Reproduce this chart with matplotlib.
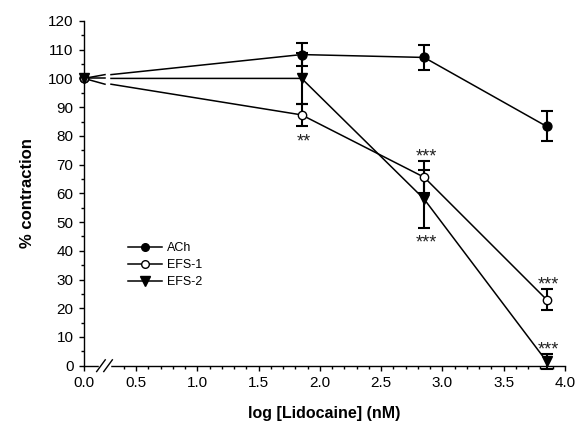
import numpy as np
import matplotlib
matplotlib.use("Agg")
import matplotlib.pyplot as plt
from matplotlib.lines import Line2D

plt.rcParams['font.family'] = ['Liberation Sans', 'DejaVu Sans']

# ---- data ----
log_lido = [0.0, 1.85, 2.85, 3.85]
ach_mean = [100, 108.3, 107.3, 83.3]
ach_err = [0, 4.0, 4.5, 5.2]
efs1_mean = [100, 87.3, 65.6, 23.0]
efs1_err = [0, 3.9, 5.5, 3.6]
efs2_mean = [100, 100, 58.0, 1.5]
efs2_err = [0, 9.0, 10.0, 2.5]
series_names = ["ACh", "EFS-1", "EFS-2"]
# significance labels: (series index, point index, side, text)
sig_labels = [
    (1, 1, "below", "**"),
    (1, 2, "above", "***"),
    (2, 2, "below", "***"),
    (1, 3, "above", "***"),
    (2, 3, "above", "***"),
]
xtick_vals = [0.0, 0.5, 1.0, 1.5, 2.0, 2.5, 3.0, 3.5, 4.0]
xtick_labels = ["0.0", "0.5", "1.0", "1.5", "2.0", "2.5", "3.0", "3.5", "4.0"]
ytick_vals = list(range(0, 121, 10))

# ---- layout / style ----
X_START = 0.0735          # axis start (control drawn here, broken axis)
GAP_L, GAP_R = 0.245, 0.294
BRK1, BRK2 = 0.212, 0.270

fig = plt.figure(figsize=(5.78, 4.32), dpi=100)
ax = fig.add_axes([0.1453, 0.1535, 0.8322, 0.798])
ax.set_xlim(X_START, 4.0)
ax.set_ylim(0, 120)

means = [ach_mean, efs1_mean, efs2_mean]
errs = [ach_err, efs1_err, efs2_err]
markers = ["o", "o", "v"]
mfcs = ["black", "white", "black"]
msizes = [6.4, 6.0, 7.2]

def disp_x(x):
    return [max(v, X_START) for v in x]

lw = 1.1
for m in means:
    y_gap = float(np.interp(GAP_R, log_lido[:2], m[:2]))
    ax.plot([X_START, GAP_L], [m[0], y_gap], color="black", lw=lw, zorder=2, clip_on=False)
    ax.plot([GAP_R] + log_lido[1:], [y_gap] + m[1:], color="black", lw=lw, zorder=2, clip_on=False)

for m, e, mk, fc, ms in zip(means, errs, markers, mfcs, msizes):
    xs = disp_x(log_lido)
    ax.errorbar(xs[1:], m[1:], yerr=e[1:], fmt="none", ecolor="black",
                elinewidth=1.5, capsize=4.0, capthick=1.5, zorder=3, clip_on=False)
    ax.plot(xs, m, linestyle="none", marker=mk, markersize=ms, markerfacecolor=fc,
            markeredgecolor="black", markeredgewidth=1.0, zorder=4, clip_on=False)

for si, pi, side, txt in sig_labels:
    yv = means[si][pi] + (errs[si][pi] if side == "above" else -errs[si][pi])
    off = 0 if side == "above" else -20
    ax.annotate(txt, (log_lido[pi], yv), xytext=(2, off), textcoords="offset pixels",
                ha="center", va="baseline", fontsize=13, color="#222222")

# axes styling
for s in ["top", "right"]:
    ax.spines[s].set_visible(False)
for s in ["left", "bottom"]:
    ax.spines[s].set_linewidth(1.0)

tick_pos = [X_START] + xtick_vals[1:]
ax.set_xticks(tick_pos)
ax.set_xticklabels(xtick_labels)
ax.set_xticks([v / 10 for v in range(4, 40) if v % 5 != 0], minor=True)
ax.set_yticks(ytick_vals)
ax.set_yticks(list(range(5, 120, 10)), minor=True)
ax.tick_params(axis="both", which="major", direction="out", length=3.6, width=1.0,
               labelsize=11, pad=4)
ax.tick_params(axis="both", which="minor", direction="out", length=2.2, width=1.0)

# axis break marks
trans = ax.get_xaxis_transform()
ax.plot([BRK1 - 0.004, BRK2 + 0.004], [0, 0], color="white", lw=2.5, transform=trans,
        clip_on=False, zorder=5)
for xb in (BRK1, BRK2):
    ax.plot([xb - 0.035, xb + 0.035], [-0.017, 0.017], color="black", lw=1.0,
            transform=trans, clip_on=False, zorder=6)

ax.set_xlabel("log [Lidocaine] (nM)", fontsize=11.5, fontweight="bold", labelpad=11)
ax.set_ylabel("% contraction", fontsize=12, fontweight="bold", labelpad=9)

handles = [Line2D([], [], color="black", lw=lw, marker=mk, markersize=ms,
                  markerfacecolor=fc, markeredgecolor="black")
           for mk, fc, ms in zip(markers, mfcs, [5.5, 5.5, 6.5])]
ax.legend(handles, series_names, loc="upper left", bbox_to_anchor=(0.0915, 0.3575),
          frameon=False, fontsize=9, handlelength=2.7, handletextpad=0.4,
          labelspacing=0.4, borderaxespad=0, borderpad=0)

fig.savefig("out.png", dpi=100)
